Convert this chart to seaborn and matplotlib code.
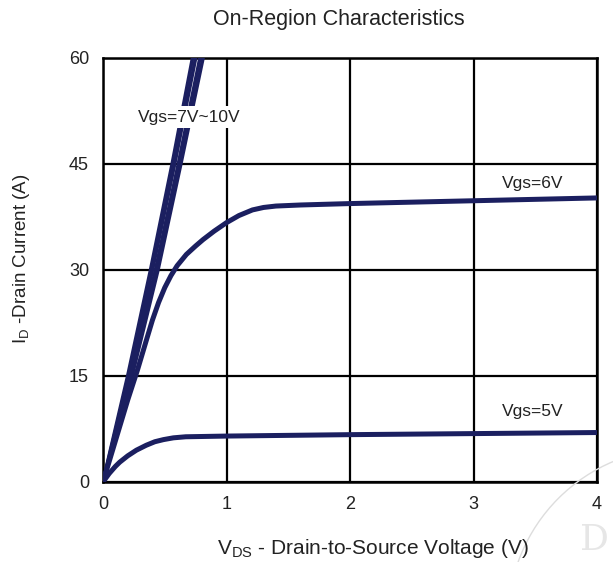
import matplotlib
matplotlib.use("Agg")
import matplotlib.pyplot as plt
import seaborn as sns
import pandas as pd
from matplotlib.patches import Circle

# ---- data ----
vds_10v = [0, 0.20, 0.385, 0.56, 0.725]
id_10v = [0, 15, 30, 45, 60]
vds_9v = [0, 0.21, 0.40, 0.58, 0.75]
id_9v = [0, 15, 30, 45, 60]
vds_8v = [0, 0.225, 0.425, 0.61, 0.785]
id_8v = [0, 15, 30, 45, 60]
vds_7v = [0, 0.235, 0.445, 0.63, 0.81]
id_7v = [0, 15, 30, 45, 60]

vds_6v = [0, 0.1, 0.2, 0.28, 0.35, 0.40, 0.45, 0.50, 0.55, 0.60, 0.675, 0.75, 0.81, 0.9, 1.0, 1.1, 1.21, 1.3, 1.4, 1.6, 2.0, 3.0, 4.0]
id_6v = [0, 5.8, 11.6, 15.9, 20.0, 22.9, 25.4, 27.5, 29.2, 30.6, 32.2, 33.4, 34.3, 35.5, 36.7, 37.7, 38.5, 38.85, 39.05, 39.2, 39.4, 39.8, 40.2]

vds_5v = [0, 0.05, 0.1, 0.135, 0.2, 0.27, 0.35, 0.42, 0.49, 0.57, 0.67, 1.0, 2.0, 3.0, 4.0]
id_5v = [0, 1.2, 2.2, 2.8, 3.7, 4.5, 5.2, 5.7, 6.0, 6.25, 6.4, 6.5, 6.7, 6.85, 7.0]

x_ticks = [0, 1, 2, 3, 4]
y_ticks = [0, 15, 30, 45, 60]

series = [("10V", vds_10v, id_10v), ("9V", vds_9v, id_9v), ("8V", vds_8v, id_8v),
          ("7V", vds_7v, id_7v), ("6V", vds_6v, id_6v), ("5V", vds_5v, id_5v)]

rows = []
for name, xs, ys in series:
    for i, (x, y) in enumerate(zip(xs, ys)):
        rows.append({"Vgs": name, "Vds": x, "Id": y, "order": i})
df = pd.DataFrame(rows)

navy = "#1b1f60"
widths = {"10V": 2.6, "9V": 2.6, "8V": 2.6, "7V": 2.6, "6V": 3.6, "5V": 3.6}

sns.set_style("white")
plt.rcParams["font.family"] = ["Liberation Sans", "DejaVu Sans"]

fig = plt.figure(figsize=(6.13, 5.62), dpi=100)
ax = fig.add_axes([103 / 613, 1 - 482 / 562, (597 - 103) / 613, (482 - 58) / 562])

for name, _, _ in series:
    sub = df[df["Vgs"] == name]
    sns.lineplot(data=sub, x="Vds", y="Id", sort=False, estimator=None, ax=ax,
                 color=navy, linewidth=widths[name], legend=False, zorder=3)

ax.set_xlim(0, 4)
ax.set_ylim(0, 60)
ax.set_xticks(x_ticks)
ax.set_yticks(y_ticks)
ax.set_xticklabels([str(v) for v in x_ticks], fontsize=13, color="#222222")
ax.set_yticklabels([str(v) for v in y_ticks], fontsize=13, color="#222222")
ax.tick_params(axis="both", length=0)
ax.tick_params(axis="x", pad=10)
ax.tick_params(axis="y", pad=10)
ax.grid(True, color="black", linewidth=1.6)
ax.set_axisbelow(True)
for s in ax.spines.values():
    s.set_color("black")
    s.set_linewidth(1.8)
ax.set_xlabel("")
ax.set_ylabel("")

box = dict(boxstyle="square,pad=0.2", facecolor="white", edgecolor="none")
ax.text(0.70, 51.6, "Vgs=7V~10V", fontsize=12.5, ha="center", va="center", color="#222222", bbox=box, zorder=4)
ax.text(3.48, 42.3, "Vgs=6V", fontsize=12.5, ha="center", va="center", color="#222222", bbox=box, zorder=4)
ax.text(3.48, 10.0, "Vgs=5V", fontsize=12.5, ha="center", va="center", color="#222222", bbox=box, zorder=4)

fig.text(339 / 613, 1 - 20 / 562, "On-Region Characteristics", fontsize=15.5,
         ha="center", va="center", color="#222222")
fig.text(22 / 613, 1 - 259 / 562, r"I$_\mathregular{D}$ -Drain Current (A)", fontsize=13.5,
         rotation=90, ha="center", va="center", color="#222222")
fig.text(373 / 613, 1 - 549 / 562, r"V$_\mathregular{DS}$ - Drain-to-Source Voltage (V)", fontsize=15,
         ha="center", va="center", color="#222222")

# faint watermark
circ = Circle((6.80, (562 - 620) / 100), 1.72, transform=fig.dpi_scale_trans,
              fill=False, edgecolor="#dddddd", linewidth=1.0)
fig.patches.append(circ)
fig.text(594 / 613, 1 - 540 / 562, "D", fontsize=26, family="DejaVu Serif",
         color="#e6e6e6", ha="center", va="center")

fig.savefig("out.png", dpi=100)
